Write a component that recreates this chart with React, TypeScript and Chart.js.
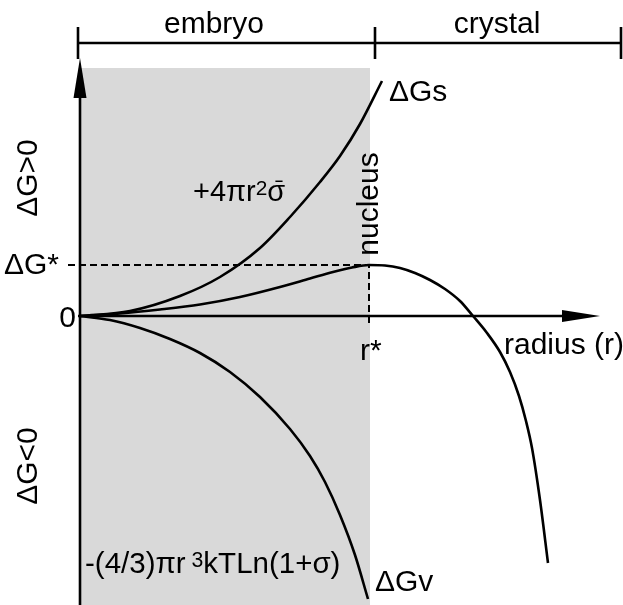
import React, { useEffect, useRef } from "react";
import { Chart, registerables } from "chart.js";

Chart.register(...registerables);

// ---- data (r: radius units, G: free-energy units) ----
const surfaceR = [0, 5, 10, 14, 18, 21, 24, 26, 28, 30.2];
const surfaceG = [0, 0.5, 2.0, 3.9, 6.8, 9.9, 13.4, 16.0, 19.2, 23.5];

const volumeR = [0, 3, 6, 9, 12, 15, 18, 21, 23, 24.5, 26, 27.5, 28.8];
const volumeG = [0, -0.4, -1.2, -2.3, -3.7, -5.6, -8.1, -11.3, -14.0, -16.6, -19.9, -23.9, -28.3];

const totalR = [0, 4, 8, 12, 16, 20, 23, 25.3, 27.2, 28.9, 30.5, 32, 33.5, 35, 36.5, 38, 39.3, 40.7, 42, 43, 43.9, 44.6, 45.2, 46, 46.8];
const totalG = [0, 0.25, 0.65, 1.15, 1.9, 2.9, 3.75, 4.4, 4.85, 5.1, 5.05, 4.8, 4.3, 3.6, 2.7, 1.5, 0, -1.7, -3.6, -5.6, -8.0, -10.5, -13.2, -18.4, -24.7];

const criticalRadius = 28.9; // r*
const criticalBarrier = 5.1; // ΔG*
const embryoEndR = 29;
const bracketTicksR = [-0.2, 29.5, 54.1];
const regionLabels = ["embryo", "crystal"];
const curveLabels = ["ΔGs", "ΔGv"];

const FONT = "'Liberation Sans', Arial, Helvetica, sans-serif";
const FS = 30;

const toPts = (xs: number[], ys: number[]) => xs.map((x, i) => ({ x, y: ys[i] }));

function drawRich(
  ctx: CanvasRenderingContext2D,
  parts: { t: string; sup?: boolean; bar?: boolean }[],
  x: number,
  y: number,
  size: number
) {
  let cx = x;
  for (const p of parts) {
    const s = p.sup ? size * 0.72 : size;
    ctx.font = `${s}px ${FONT}`;
    const yy = p.sup ? y - size * 0.22 : y;
    ctx.fillText(p.t, cx, yy);
    const w = ctx.measureText(p.t).width;
    if (p.bar) {
      ctx.save();
      ctx.lineWidth = 1.5;
      ctx.strokeStyle = "#000";
      ctx.beginPath();
      ctx.moveTo(cx + w * 0.45, y - size * 0.68);
      ctx.lineTo(cx + w * 0.85, y - size * 0.68);
      ctx.stroke();
      ctx.restore();
    }
    cx += w;
  }
}

const decorPlugin = {
  id: "decor",
  beforeDatasetsDraw(chart: any) {
    const { ctx, scales } = chart;
    const xs = scales.x;
    const ys = scales.y;
    const X = (v: number) => xs.getPixelForValue(v);
    const Y = (v: number) => ys.getPixelForValue(v);
    ctx.save();
    // shaded embryo region
    ctx.fillStyle = "#d9d9d9";
    const top = Y(24.8);
    ctx.fillRect(X(0), top, X(embryoEndR) - X(0), chart.height - top);

    ctx.strokeStyle = "#000";
    ctx.fillStyle = "#000";
    ctx.lineWidth = 2.6;
    const y0 = Y(0);
    const x0 = X(0);
    // y axis
    ctx.beginPath();
    ctx.moveTo(x0, chart.height);
    ctx.lineTo(x0, Y(22));
    ctx.stroke();
    ctx.beginPath();
    ctx.moveTo(x0, Y(25.8));
    ctx.lineTo(x0 - 6.5, Y(21.8));
    ctx.lineTo(x0 + 6.5, Y(21.8));
    ctx.closePath();
    ctx.fill();
    // x axis
    ctx.beginPath();
    ctx.moveTo(x0 - 2, y0);
    ctx.lineTo(X(48.5), y0);
    ctx.stroke();
    ctx.beginPath();
    ctx.moveTo(X(52), y0);
    ctx.lineTo(X(48.2), y0 - 6);
    ctx.lineTo(X(48.2), y0 + 6);
    ctx.closePath();
    ctx.fill();
    // top bracket
    const by = Y(27.3);
    ctx.beginPath();
    ctx.moveTo(X(bracketTicksR[0]), by);
    ctx.lineTo(X(bracketTicksR[2]), by);
    ctx.stroke();
    for (const r of bracketTicksR) {
      ctx.beginPath();
      ctx.moveTo(X(r), Y(28.9));
      ctx.lineTo(X(r), Y(25.7));
      ctx.stroke();
    }
    // dashed ΔG* and r* lines
    ctx.lineWidth = 2;
    ctx.setLineDash([7, 4]);
    ctx.beginPath();
    ctx.moveTo(X(-1.2), Y(criticalBarrier));
    ctx.lineTo(X(criticalRadius), Y(criticalBarrier));
    ctx.lineTo(X(criticalRadius), Y(-0.8));
    ctx.stroke();
    ctx.setLineDash([]);
    ctx.restore();
  },
  afterDatasetsDraw(chart: any) {
    const { ctx } = chart;
    ctx.save();
    ctx.fillStyle = "#000";
    ctx.font = `${FS}px ${FONT}`;
    ctx.textBaseline = "alphabetic";
    ctx.textAlign = "center";
    ctx.fillText(regionLabels[0], 214, 33);
    ctx.fillText(regionLabels[1], 497, 33);
    ctx.textAlign = "left";
    ctx.fillText(curveLabels[0], 389, 101);
    ctx.fillText(curveLabels[1], 375, 591);
    ctx.fillText("ΔG*", 4, 274);
    ctx.fillText("r*", 360, 360);
    ctx.fillText("radius (r)", 504, 354);
    ctx.textAlign = "right";
    ctx.fillText("0", 76, 327);
    ctx.textAlign = "left";
    drawRich(ctx, [{ t: "+4πr" }, { t: "2", sup: true }, { t: "σ", bar: true }], 193, 201, 29);
    drawRich(ctx, [{ t: "-(4/3)πr" }, { t: " 3", sup: true }, { t: "kTLn(1+σ)" }], 85, 573, 29.5);
    // rotated labels
    const rot = (t: string, x: number, y: number) => {
      ctx.save();
      ctx.translate(x, y);
      ctx.rotate(-Math.PI / 2);
      ctx.textAlign = "center";
      ctx.font = `${FS}px ${FONT}`;
      ctx.fillText(t, 0, 0);
      ctx.restore();
    };
    rot("ΔG>0", 37, 178);
    rot("ΔG<0", 37, 466);
    rot("nucleus", 378, 204);
    ctx.restore();
  },
};

export default function App() {
  const ref = useRef<HTMLCanvasElement | null>(null);
  useEffect(() => {
    if (!ref.current) return;
    const lineStyle = {
      borderColor: "#000",
      borderWidth: 2.6,
      pointRadius: 0,
      fill: false,
      cubicInterpolationMode: "monotone" as const,
    };
    const chart = new Chart(ref.current, {
      type: "line",
      data: {
        datasets: [
          { label: "ΔGs", data: toPts(surfaceR, surfaceG), ...lineStyle },
          { label: "ΔGv", data: toPts(volumeR, volumeG), ...lineStyle },
          { label: "ΔG", data: toPts(totalR, totalG), ...lineStyle },
        ],
      },
      options: {
        responsive: false,
        animation: false,
        events: [],
        layout: { padding: { left: 80, right: 3, top: 5, bottom: 0 } },
        plugins: { legend: { display: false }, tooltip: { enabled: false } },
        scales: {
          x: { type: "linear", min: 0, max: 54, display: false },
          y: { type: "linear", min: -28.9, max: 31.1, display: false },
        },
      },
      plugins: [decorPlugin],
    });
    return () => chart.destroy();
  }, []);
  return (
    <div style={{ position: "absolute", left: 0, top: 0, width: 623, height: 605, background: "#fff" }}>
      <canvas ref={ref} width={623} height={605} />
    </div>
  );
}
